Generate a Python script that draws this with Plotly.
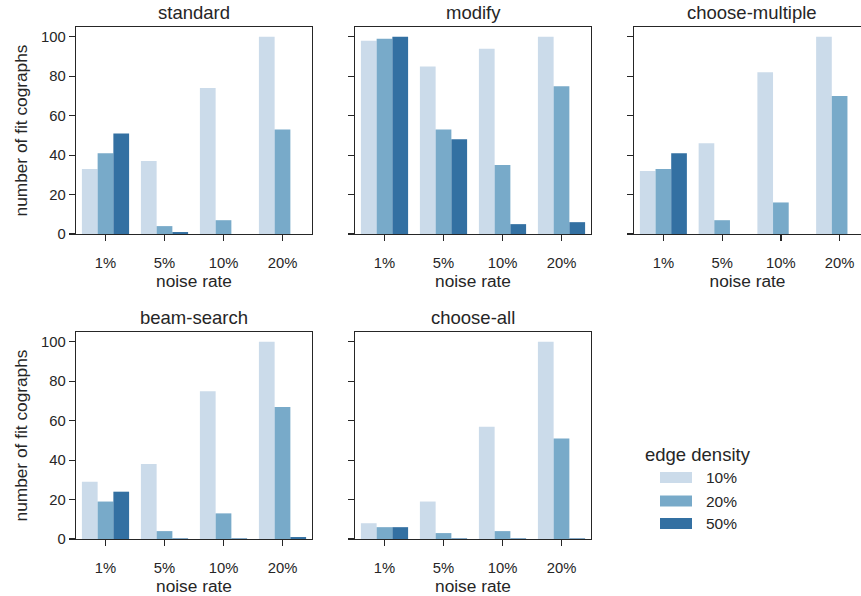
import plotly.graph_objects as go

noise_rates = ["1%", "5%", "10%", "20%"]
densities = ["10%", "20%", "50%"]
colors = ["#cbdbea", "#78aac9", "#3370a2"]

standard = [[33, 37, 74, 100], [41, 4, 7, 53], [51, 1, None, None]]
modify = [[98, 85, 94, 100], [99, 53, 35, 75], [100, 48, 5, 6]]
choose_multiple = [[32, 46, 82, 100], [33, 7, 16, 70], [41, None, None, None]]
beam_search = [[29, 38, 75, 100], [19, 4, 13, 67], [24, 0.3, 0.3, 1]]
choose_all = [[8, 19, 57, 100], [6, 3, 4, 51], [6, 0.3, 0.3, 0.3]]

panels = [
    ("standard", standard),
    ("modify", modify),
    ("choose-multiple", choose_multiple),
    ("beam-search", beam_search),
    ("choose-all", choose_all),
]

W, H = 861, 596
TXT = "#262626"
FONT = "Liberation Sans, Arial, sans-serif"
TICK = 14.8
LAB = 17.3
TTL = 18.5
LEGT = 18.5
LEGL = 15.5

# pixel boxes in window coords (left, right, top, bottom)
boxes = [
    (76, 312, 27, 234),
    (355, 591, 27, 234),
    (634, 869, 27, 234),
    (76, 312, 332, 539),
    (355, 591, 332, 539),
]


def px(x):
    return x / W


def py(y):
    return 1 - y / H


fig = go.Figure()
annotations = []
for i, ((name, vals), (l, r, t, b)) in enumerate(zip(panels, boxes)):
    k = i + 1
    xa = "x" if k == 1 else f"x{k}"
    ya = "y" if k == 1 else f"y{k}"
    for j, d in enumerate(densities):
        fig.add_trace(go.Bar(
            x=noise_rates, y=vals[j], name=d, marker=dict(color=colors[j], line=dict(width=0)),
            xaxis=xa, yaxis=ya, showlegend=False, offsetgroup=str(j),
        ))
    rr = min(r, W)
    xmax = 3.5 - (r - rr) / ((r - l) / 4.0)
    xkey = "xaxis" if k == 1 else f"xaxis{k}"
    ykey = "yaxis" if k == 1 else f"yaxis{k}"
    fig.layout[xkey] = dict(
        domain=[px(l), px(rr)], anchor=ya, type="category", range=[-0.5, xmax],
        automargin=False,
        showline=True, linecolor=TXT, linewidth=1.25, mirror=True,
        ticks="outside", ticklen=6, tickwidth=1.25, tickcolor=TXT,
        ticklabelstandoff=9,
        showgrid=False, zeroline=False,
        tickfont=dict(size=TICK, color=TXT, family=FONT),
        title=dict(text="noise rate", font=dict(size=LAB, color=TXT, family=FONT), standoff=4),
    )
    fig.layout[ykey] = dict(
        domain=[py(b), py(t)], anchor=xa, range=[0, 105],
        automargin=False,
        tickvals=[0, 20, 40, 60, 80, 100],
        showline=True, linecolor=TXT, linewidth=1.25, mirror=(r <= W),
        ticks="outside", ticklen=6, tickwidth=1.25, tickcolor=TXT,
        showgrid=False, zeroline=False,
        showticklabels=(l < 100),
        tickfont=dict(size=TICK, color=TXT, family=FONT),
        title=dict(text="number of fit cographs" if l < 100 else "",
                   font=dict(size=LAB, color=TXT, family=FONT), standoff=9),
    )
    annotations.append(dict(
        text=name, x=px((l + r) / 2), y=py(t - 14), xref="paper", yref="paper",
        xanchor="center", yanchor="middle", showarrow=False,
        font=dict(size=TTL, color=TXT, family=FONT),
    ))

# legend (drawn manually)
shapes = []
annotations.append(dict(text="edge density", x=px(643), y=py(454), xref="paper", yref="paper",
                        xanchor="left", yanchor="middle", showarrow=False,
                        font=dict(size=LEGT, color=TXT, family=FONT)))
for j, d in enumerate(densities):
    cy = [477.5, 501, 523.5][j]
    shapes.append(dict(type="rect", xref="paper", yref="paper",
                       x0=px(660), x1=px(692), y0=py(cy - 5.5), y1=py(cy + 5.5),
                       fillcolor=colors[j], line=dict(width=0)))
    annotations.append(dict(text=d, x=px(704), y=py(cy), xref="paper", yref="paper",
                            xanchor="left", yanchor="middle", showarrow=False,
                            font=dict(size=LEGL, color=TXT, family=FONT)))

fig.update_layout(
    width=W, height=H, margin=dict(l=0, r=0, t=0, b=0),
    paper_bgcolor="white", plot_bgcolor="white",
    barmode="group", bargap=0.2, bargroupgap=0,
    annotations=annotations, shapes=shapes, showlegend=False,
    font=dict(family=FONT, color=TXT),
)

fig.write_html(
    "out.html",
    config={"displayModeBar": False, "staticPlot": True},
    post_script="document.body.style.margin='0';document.body.style.overflow='hidden';",
)
